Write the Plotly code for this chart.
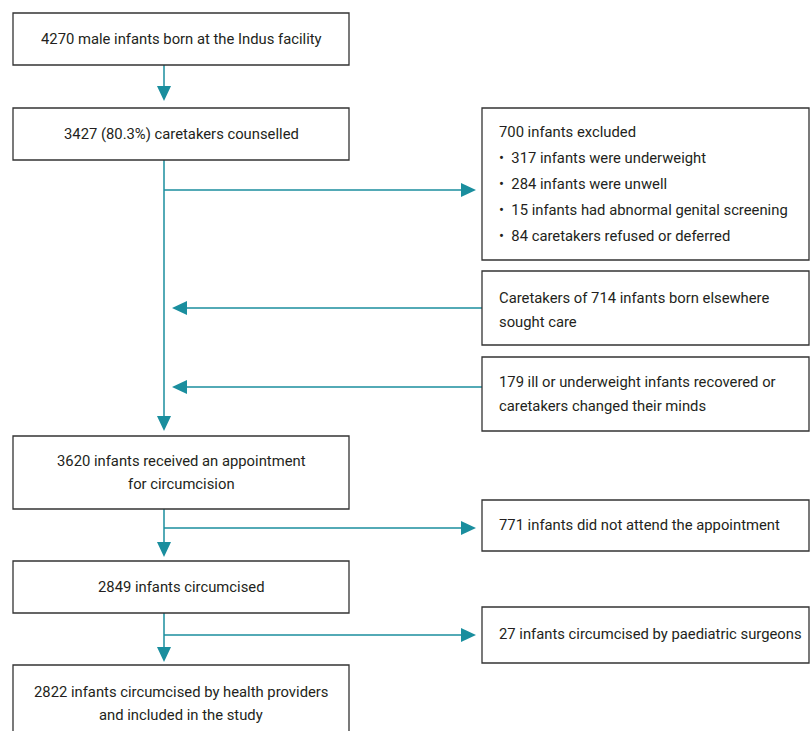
import plotly.graph_objects as go

TEAL = "#1a8e9e"
BORDER = "#333333"
TEXT = "#231f20"
FONT = "Roboto, Liberation Sans, sans-serif"
FS = 14.8

# Flowchart content (text of each box)
main_boxes = [
    ["4270 male infants born at the Indus facility"],
    ["3427 (80.3%) caretakers counselled"],
    ["3620 infants received an appointment", "for circumcision"],
    ["2849 infants circumcised"],
    ["2822 infants circumcised by health providers", "and included in the study"],
]
side_boxes = [
    ["700 infants excluded",
     "\u2022  317 infants were underweight",
     "\u2022  284 infants were unwell",
     "\u2022  15 infants had abnormal genital screening",
     "\u2022  84 caretakers refused or deferred"],
    ["Caretakers of 714 infants born elsewhere", "sought care"],
    ["179 ill or underweight infants recovered or", "caretakers changed their minds"],
    ["771 infants did not attend the appointment"],
    ["27 infants circumcised by paediatric surgeons"],
]

# Layout geometry (pixels)
LX0, LX1 = 13, 349
RX0, RX1 = 482, 809
CX = 164
main_y = [(13, 65), (108, 160), (436, 509), (561, 613), (665, 745)]
side_y = [(108, 260), (271, 345), (357, 431), (500, 551), (607, 663)]
side_line_y = [[132, 158, 184, 210, 236], [298, 322], [382, 406], [525], [634]]
main_line_y = [[39], [134], [461, 484], [587], [692, 715]]

shapes = []
annotations = []

for (y0, y1), lines, ly in zip(main_y, main_boxes, main_line_y):
    shapes.append(dict(type="rect", x0=LX0, x1=LX1, y0=y0, y1=y1,
                       line=dict(color=BORDER, width=1.3), fillcolor="white", layer="above"))
    for t, yy in zip(lines, ly):
        annotations.append(dict(x=(LX0 + LX1) / 2, y=yy, text=t, showarrow=False,
                                xanchor="center", yanchor="middle",
                                font=dict(family=FONT, size=FS, color=TEXT)))

for (y0, y1), lines, ly in zip(side_y, side_boxes, side_line_y):
    shapes.append(dict(type="rect", x0=RX0, x1=RX1, y0=y0, y1=y1,
                       line=dict(color=BORDER, width=1.3), fillcolor="white", layer="above"))
    for t, yy in zip(lines, ly):
        annotations.append(dict(x=497, y=yy, text=t, showarrow=False,
                                xanchor="left", yanchor="middle",
                                font=dict(family=FONT, size=FS, color=TEXT)))

def line(x0, y0, x1, y1):
    shapes.append(dict(type="line", x0=x0, y0=y0, x1=x1, y1=y1,
                       line=dict(color=TEAL, width=1.5), layer="below"))

AH_L, AH_W = 15, 7

def head_down(x, ytip):
    shapes.append(dict(type="path",
                       path=f"M {x-AH_W},{ytip-AH_L} L {x+AH_W},{ytip-AH_L} L {x},{ytip} Z",
                       fillcolor=TEAL, line=dict(color=TEAL, width=0)))

def head_right(xtip, y):
    shapes.append(dict(type="path",
                       path=f"M {xtip-AH_L-3},{y-AH_W} L {xtip-AH_L-3},{y+AH_W} L {xtip-3},{y} Z",
                       fillcolor=TEAL, line=dict(color=TEAL, width=0)))

def head_left(xtip, y):
    shapes.append(dict(type="path",
                       path=f"M {xtip+AH_L},{y-AH_W} L {xtip+AH_L},{y+AH_W} L {xtip},{y} Z",
                       fillcolor=TEAL, line=dict(color=TEAL, width=0)))

# box1 -> box2
line(CX, 65, CX, 95)
head_down(CX, 101)
# box2 -> box3 (long vertical)
line(CX, 160, CX, 425)
head_down(CX, 431)
# exclusion arrow
line(CX, 190, 466, 190)
head_right(479, 190)
# incoming arrows
line(185, 308, RX0, 308)
head_left(172, 308)
line(185, 387, RX0, 387)
head_left(172, 387)
# box3 -> box4
line(CX, 509, CX, 552)
head_down(CX, 557)
line(CX, 528, 466, 528)
head_right(479, 528)
# box4 -> box5
line(CX, 613, CX, 655)
head_down(CX, 662)
line(CX, 635, 466, 635)
head_right(479, 635)

fig = go.Figure()
fig.add_trace(go.Scatter(x=[0, 810], y=[0, 731], mode="markers",
                         marker=dict(opacity=0), hoverinfo="skip", showlegend=False))
fig.update_layout(
    width=810, height=731,
    margin=dict(l=0, r=0, t=0, b=0),
    paper_bgcolor="white", plot_bgcolor="white",
    xaxis=dict(range=[0, 810], visible=False, fixedrange=True),
    yaxis=dict(range=[731, 0], visible=False, fixedrange=True),
    shapes=shapes, annotations=annotations,
    showlegend=False,
)
fig.write_html("out.html", config={"displayModeBar": False})

with open("out.html", encoding="utf-8") as f:
    html = f.read()
html = html.replace(
    "<head>",
    "<head><style>html,body{margin:0;padding:0;overflow:hidden}</style>", 1)
with open("out.html", "w", encoding="utf-8") as f:
    f.write(html)
